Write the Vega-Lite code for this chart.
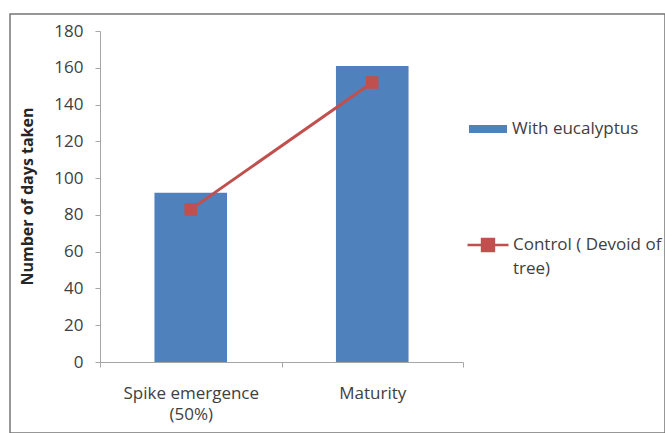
{
  "$schema": "https://vega.github.io/schema/vega-lite/v6.json",
  "width": 655,
  "height": 419,
  "autosize": {"type": "none"},
  "padding": {"left": 10, "top": 14, "right": 0, "bottom": 0},
  "background": "white",
  "config": {
    "view": {"stroke": "#767676", "strokeWidth": 1.5},
    "font": "Open Sans",
    "style": {"guide-label": {"lineHeight": 24}},
    "axis": {
      "grid": false,
      "domainColor": "#a6a6a6",
      "tickColor": "#a6a6a6",
      "labelColor": "#404040",
      "labelFont": "Open Sans",
      "labelFontSize": 17,
      "titleFont": "Open Sans"
    },
    "legend": {
      "labelFont": "Open Sans",
      "labelFontSize": 17,
      "labelColor": "#404040",
      "padding": 0,
      "labelLimit": 400
    }
  },
  "data": {
    "values": [
      {"stage": "Spike emergence (50%)", "eucalyptus": 92, "control": 83},
      {"stage": "Maturity", "eucalyptus": 161, "control": 152}
    ]
  },
  "encoding": {
    "x": {
      "field": "stage",
      "type": "nominal",
      "sort": null,
      "scale": {"range": [90, 453], "paddingInner": 0, "paddingOuter": 0},
      "axis": {
        "title": null,
        "offset": -71,
        "tickBand": "extent",
        "tickSize": 5,
        "labelPadding": 18,
        "labelAngle": 0,
        "labelLimit": 300,
        "labelBaseline": "top",
        "labelLineHeight": 21,
        "labelExpr": "datum.value == 'Spike emergence (50%)' ? ['Spike emergence', '(50%)'] : datum.label"
      }
    }
  },
  "layer": [
    {
      "mark": {"type": "bar", "width": {"band": 0.4}},
      "encoding": {
        "y": {
          "field": "eucalyptus",
          "type": "quantitative",
          "title": "Number of days taken",
          "scale": {"domain": [0, 180], "range": [348, 17]},
          "axis": {
            "offset": -90,
            "values": [0, 20, 40, 60, 80, 100, 120, 140, 160, 180],
            "tickSize": 5,
            "labelPadding": 12,
            "titleFontWeight": "bold",
            "titleFontSize": 16,
            "titleColor": "#262626",
            "titleAngle": -90,
            "titleBaseline": "middle",
            "titleX": -73,
            "titleY": 182
          }
        },
        "fill": {
          "datum": "With eucalyptus",
          "scale": {"domain": ["With eucalyptus"], "range": ["#4f81bd"]},
          "legend": {
            "title": null,
            "orient": "none",
            "legendX": 459,
            "legendY": 96,
            "symbolType": "M-1,-0.21H1V0.21H-1Z",
            "symbolSize": 1444,
            "symbolStrokeWidth": 0,
            "symbolOpacity": 1,
            "labelOffset": 5
          }
        }
      }
    },
    {
      "mark": {"type": "line", "strokeWidth": 3},
      "encoding": {
        "y": {"field": "control", "type": "quantitative", "title": "Number of days taken"},
        "stroke": {
          "datum": "Control ( Devoid of tree)",
          "scale": {"domain": ["Control ( Devoid of tree)"], "range": ["#c0504d"]},
          "legend": {
            "title": null,
            "orient": "none",
            "legendX": 456,
            "legendY": 209,
            "symbolType": "M-1,0H1M-0.29,-0.29H0.29V0.29H-0.29Z",
            "symbolSize": 1681,
            "symbolStrokeWidth": 2.5,
            "symbolFillColor": "#c0504d",
            "labelOffset": 3,
            "labelExpr": "datum.label == 'Control ( Devoid of tree)' ? ['Control ( Devoid of', 'tree)'] : datum.label"
          }
        }
      }
    },
    {
      "mark": {"type": "point", "shape": "square", "size": 160, "filled": true, "color": "#c0504d", "opacity": 1},
      "encoding": {
        "y": {"field": "control", "type": "quantitative", "title": "Number of days taken"}
      }
    }
  ]
}
